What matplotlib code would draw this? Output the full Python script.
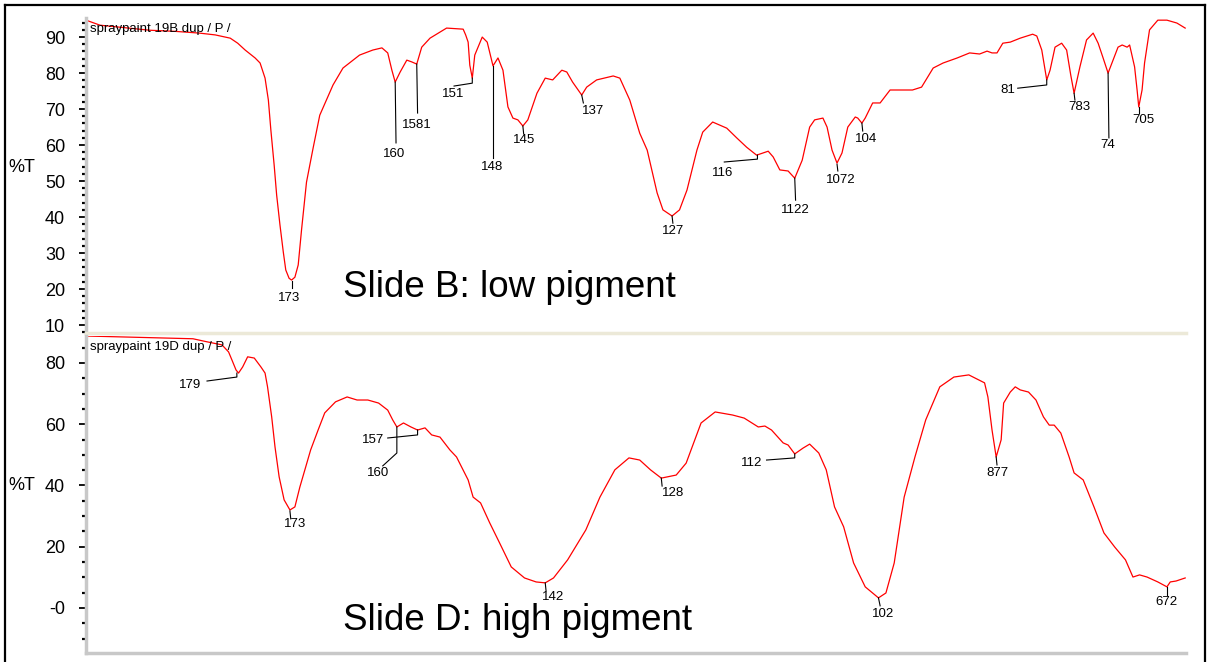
import matplotlib.pyplot as plt
from matplotlib.lines import Line2D
from matplotlib.ticker import MultipleLocator

plt.rcParams['font.family'] = ['Liberation Sans', 'DejaVu Sans']

W, H = 1208, 662

# Slide B (low pigment): wavenumber (cm-1) and %T
wn_b = [1976, 1959, 1899, 1869, 1839, 1820, 1802, 1793, 1784, 1772, 1766, 1760,
        1756, 1753, 1749,
        1746, 1742, 1738, 1735, 1731, 1728, 1724, 1720, 1716, 1710, 1702, 1694,
        1678, 1666, 1646, 1630, 1619, 1612, 1607, 1603, 1597, 1589, 1583, 1577,
        1571, 1561, 1541, 1521, 1518, 1515, 1513, 1510, 1507, 1498, 1492, 1485,
        1479, 1473, 1467, 1461, 1455, 1449, 1443, 1432, 1422, 1413, 1402, 1396,
        1389, 1378, 1372, 1360, 1340, 1332, 1320, 1308, 1299, 1292, 1287, 1280,
        1269, 1260, 1251, 1239, 1232, 1220, 1203, 1191, 1179, 1167, 1153, 1147,
        1139, 1129, 1121, 1112, 1103, 1097, 1087, 1082, 1076, 1070, 1064, 1057,
        1048, 1045, 1040, 1036, 1027, 1018, 1006, 994, 979, 968, 954, 942, 925,
        910, 898, 889, 883, 877, 870, 861, 849, 834, 829, 823, 817, 813, 807,
        799, 793, 788, 784, 781, 777, 769, 761, 755, 749, 743, 737, 731, 726,
        720, 717, 711, 708, 706, 702, 699, 693, 683, 672, 660, 650]
t_b = [94.7, 93.3, 91.9, 91.6, 91.1, 90.6, 89.7, 88.3, 86.4, 84.2, 82.8, 78.6,
       72.5, 64.2, 54.4,
       46.1, 37.8, 30.3, 25.3, 23.0, 22.5, 23.3, 26.7, 36.4, 49.7, 59.2, 68.3,
       76.7, 81.4, 85.0, 86.4, 87.0, 85.6, 80.8, 77.5, 80.3, 83.6, 83.1, 82.5,
       87.2, 89.7, 92.5, 92.2, 90.6, 88.6, 82.2, 78.6, 85.0, 90.0, 88.6, 82.0,
       84.2, 80.8, 70.6, 67.5, 67.0, 65.3, 67.0, 74.4, 78.6, 78.1, 80.8, 80.3,
       77.5, 73.9, 76.1, 78.1, 79.2, 78.6, 72.5, 63.3, 58.6, 51.7, 46.7, 42.0,
       40.3, 42.0, 47.5, 58.6, 63.6, 66.4, 64.7, 62.0, 59.4, 57.2, 58.3, 56.7,
       53.1, 52.8, 50.8, 55.8, 65.0, 67.0, 67.5, 65.0, 58.6, 55.0, 57.8, 65.0,
       67.8, 67.5, 66.1, 67.5, 71.7, 71.7, 75.3, 75.3, 75.3, 76.1, 81.4, 82.8,
       84.2, 85.6, 85.3, 86.1, 85.6, 85.6, 88.3, 88.6, 89.7, 90.8, 90.3, 86.4,
       78.1, 80.8, 87.2, 88.3, 86.4, 79.4, 74.4, 77.5, 81.7, 89.2, 91.1, 88.3,
       84.2, 80.0, 83.6, 87.2, 87.8, 87.2, 87.8, 81.7, 75.3, 70.6, 75.3, 82.8,
       92.0, 94.7, 94.7, 93.9, 92.5]

# Slide D (high pigment)
wn_d = [1976, 1933, 1890, 1847, 1830, 1812, 1804, 1800, 1795, 1792, 1787, 1781,
        1773, 1765, 1760, 1757, 1752, 1748, 1743, 1737, 1730, 1724, 1718, 1711,
        1705, 1696, 1688, 1675, 1661, 1649, 1636, 1623, 1612, 1606, 1601, 1593,
        1584, 1576, 1567, 1559, 1549, 1537, 1529, 1515, 1509, 1500, 1489, 1477,
        1463, 1447, 1433, 1422, 1412, 1395, 1373, 1356, 1338, 1321, 1308, 1295,
        1282, 1264, 1252, 1234, 1217, 1196, 1182, 1165, 1157, 1149, 1135, 1129,
        1121, 1111, 1103, 1092, 1083, 1073, 1062, 1050, 1036, 1020, 1011, 1001,
        989, 976, 963, 946, 929, 911, 892, 888, 883, 878, 872, 869, 861, 855,
        849, 839, 830, 821, 814, 808, 800, 790, 784, 773, 760, 748, 735, 722,
        713, 705, 696, 683, 672, 668, 661, 650]
t_d = [88.8, 88.5, 88.2, 87.9, 86.9, 85.9, 83.6, 81.0, 77.7, 76.7, 78.7, 82.0,
       81.6, 78.7, 76.7, 72.2, 62.4, 52.6, 42.8, 35.3, 32.0, 33.0, 39.5, 46.0,
       51.6, 58.1, 63.7, 67.3, 68.9, 67.9, 67.9, 66.9, 64.6, 61.4, 59.1, 60.4,
       59.1, 58.1, 58.8, 56.5, 55.8, 51.6, 49.3, 41.8, 36.2, 34.3, 27.8, 21.2,
       13.4, 9.8, 8.5, 8.2, 9.8, 15.7, 25.5, 36.2, 45.1, 49.0, 48.3, 45.1,
       42.4, 43.4, 47.3, 60.4, 64.0, 63.0, 62.0, 59.1, 59.4, 58.1, 53.9, 53.2,
       50.3, 52.2, 53.5, 50.6, 45.1, 33.0, 26.5, 14.7, 6.9, 3.3, 4.9, 14.7,
       36.2, 49.3, 61.4, 72.2, 75.4, 76.1, 73.5, 68.9, 58.1, 49.3, 54.9, 66.9,
       70.5, 72.2, 71.2, 70.5, 67.9, 62.4, 59.7, 59.7, 57.1, 49.3, 44.1, 41.8,
       33.0, 24.5, 19.9, 15.7, 10.1, 10.8, 10.1, 8.5, 6.9, 8.5, 8.8, 9.8]

# peak labels: text, leader line points (wn, %T), text position (wn, %T)
peaks_b = [
    ('173', [(1728, 22.2), (1728, 20.3)], (1731, 17.5)),
    ('160', [(1603, 77.5), (1602, 60.6)], (1604, 57.5)),
    ('1581', [(1577, 82.5), (1576, 68.9)], (1577, 65.6)),
    ('151', [(1510, 78.6), (1510, 77.2), (1532, 76.4)], (1533, 74.2)),
    ('148', [(1485, 82.0), (1485, 56.4)], (1486, 53.9)),
    ('145', [(1449, 65.3), (1448, 63.1)], (1448, 61.4)),
    ('137', [(1378, 73.9), (1376, 71.7)], (1364, 69.4)),
    ('127', [(1269, 40.3), (1268, 38.3)], (1268, 36.1)),
    ('116', [(1166, 57.2), (1166, 56.1), (1206, 55.3)], (1208, 52.2)),
    ('1122', [(1121, 50.8), (1120, 44.7)], (1120, 41.9)),
    ('1072', [(1070, 54.7), (1069, 52.8)], (1066, 50.3)),
    ('104', [(1040, 66.1), (1039, 63.9)], (1035, 61.7)),
    ('81', [(817, 78.1), (817, 76.7), (852, 75.8)], (864, 75.3)),
    ('783', [(784, 74.4), (783, 72.5)], (778, 70.6)),
    ('74', [(743, 80.0), (742, 62.0)], (743, 60.0)),
    ('705', [(706, 70.6), (706, 68.9)], (701, 67.0)),
]
peaks_d = [
    ('179', [(1794, 76.7), (1794, 75.4), (1830, 74.1)], (1851, 72.8)),
    ('173', [(1730, 31.7), (1729, 29.1)], (1724, 27.4)),
    ('160', [(1601, 59.1), (1601, 50.6), (1618, 46.4)], (1624, 44.1)),
    ('157', [(1576, 58.1), (1576, 56.5), (1612, 55.5)], (1630, 54.9)),
    ('142', [(1422, 8.2), (1421, 5.6)], (1412, 3.6)),
    ('128', [(1282, 42.4), (1281, 39.8)], (1268, 37.5)),
    ('112', [(1121, 50.3), (1121, 49.0), (1155, 48.3)], (1173, 47.3)),
    ('102', [(1020, 3.3), (1018, 0.7)], (1015, -2.0)),
    ('877', [(878, 49.3), (877, 46.7)], (876, 44.1)),
    ('672', [(672, 6.9), (672, 4.2)], (673, 2.0)),
]


def fx(px):
    return px / W


def fy(py):
    return 1 - py / H


fig = plt.figure(figsize=(W / 100, H / 100), dpi=100)

ax1 = fig.add_axes([fx(86), fy(333), fx(1186) - fx(86), fy(18) - fy(333)])
ax2 = fig.add_axes([fx(86), fy(653), fx(1186) - fx(86), fy(336) - fy(653)])

panels = [
    (ax1, wn_b, t_b, peaks_b, (7.8, 95.3), range(10, 100, 10), None, 2,
     '#ece9d8', 'spraypaint 19B dup / P /'),
    (ax2, wn_d, t_d, peaks_d, (-14.7, 88.8), range(0, 100, 20),
     ['-0', '20', '40', '60', '80'], 5, '#c8c8c8', 'spraypaint 19D dup / P /'),
]

for ax, wn, t, peaks, ylim, yt, ytl, minor, bcol, title in panels:
    ax.plot(wn, t, color='#ff0000', lw=0.9)
    for txt, pts, pos in peaks:
        ax.plot([p[0] for p in pts], [p[1] for p in pts], color='black', lw=0.8)
        ax.text(pos[0], pos[1], txt, ha='center', va='center', fontsize=9.5)
    ax.set_xlim(1976, 649)
    ax.set_ylim(*ylim)
    ax.set_xticks([])
    ax.set_yticks(list(yt))
    if ytl:
        ax.set_yticklabels(ytl)
    ax.yaxis.set_minor_locator(MultipleLocator(minor))
    ax.tick_params(axis='y', which='major', length=5, width=1.3, pad=10,
                   labelsize=13)
    ax.tick_params(axis='y', which='minor', length=3, width=1.6)
    for s in ('top', 'right'):
        ax.spines[s].set_visible(False)
    ax.spines['left'].set_color('#c8c8c8')
    ax.spines['left'].set_linewidth(2.5)
    ax.spines['bottom'].set_color(bcol)
    ax.spines['bottom'].set_linewidth(2.5)
    ax.patch.set_alpha(0)
    ax.text(0.004, 0.985, title, transform=ax.transAxes, fontsize=9.5,
            ha='left', va='top')

fig.text(fx(8), fy(167), '%T', fontsize=13, ha='left', va='center')
fig.text(fx(8), fy(485), '%T', fontsize=13, ha='left', va='center')
fig.text(fx(343), fy(288), 'Slide B: low pigment', fontsize=26.5,
         ha='left', va='center')
fig.text(fx(343), fy(621), 'Slide D: high pigment', fontsize=26.5,
         ha='left', va='center')

# outer frame
for xs, ys in [([5, 5], [5, H + 5]), ([5, 1205], [5, 5]), ([1205, 1205], [5, H + 5])]:
    fig.add_artist(Line2D([fx(x) for x in xs], [fy(y) for y in ys],
                          color='black', lw=1.6))

fig.savefig('out.png', dpi=100)
